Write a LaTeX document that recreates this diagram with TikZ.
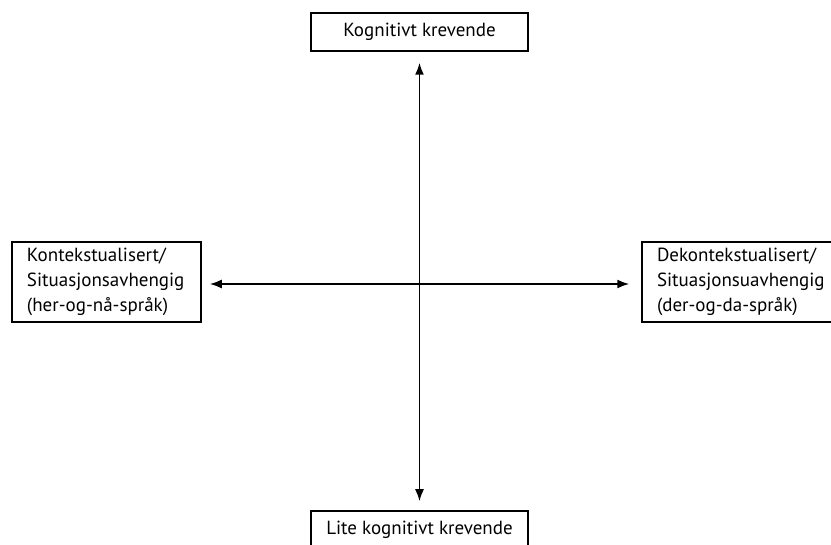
\documentclass[tikz,border=0pt]{standalone}
\usepackage{fontspec}
\setmainfont{PT Sans}
\usetikzlibrary{arrows.meta}
\begin{document}
\begin{tikzpicture}[x=1pt, y=-1pt,
    boks/.style={draw, line width=1.5pt, font=\fontsize{19}{25}\selectfont},
    endeboks/.style={boks, minimum width=217pt, minimum height=38pt, inner sep=0pt},
    sideboks/.style={boks, minimum height=80pt, inner xsep=15pt, inner ysep=0pt, align=left},
    akse/.style={line width=1.8pt, {Latex[length=12pt,width=9pt]}-{Latex[length=12pt,width=9pt]}}]
    \useasboundingbox (0,0) rectangle (831,545);

    \node[endeboks] (krevende) at (419.5,32) {Kognitivt krevende};
    \node[endeboks] (litekrevende) at (419.5,530) {Lite kognitivt krevende};
    \node[sideboks, text width=159pt] (kontekst) at (106.5,282) {Kontekstualisert/\\Situasjonsavhengig\\(her-og-nå-språk)};
    \node[sideboks, text width=175pt] (dekontekst) at (744.5,282) {Dekontekstualisert/\\Situasjonsuavhengig\\(der-og-da-språk)};

    \coordinate (midt) at (419.5,284);
    \draw[akse, shorten <=11pt, shorten >=9pt] (krevende.south) -- (litekrevende.north);
    \draw[akse, shorten <=8pt, shorten >=12pt] (midt -| kontekst.east) -- (midt -| dekontekst.west);
\end{tikzpicture}
\end{document}
